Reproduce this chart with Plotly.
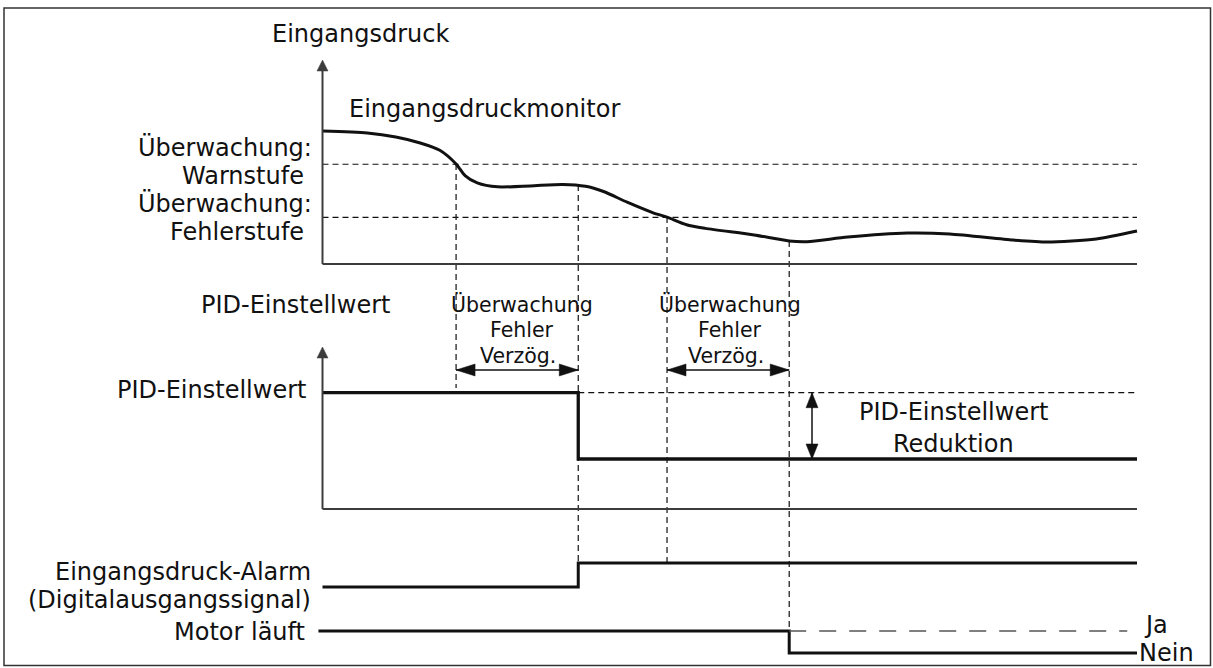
import plotly.graph_objects as go

W, H = 1213, 668

# ---------------- data (schematic time units 0..100) ----------------
pressure_time = [0, 5.5, 9, 12, 14.4, 16.4, 17.5, 19, 21.5, 25.5, 29.5, 32.3, 34.5, 37.4,
                 40.6, 42.3, 44.7, 47, 53, 57.3, 59.5, 64.5, 71.8, 77, 84.8, 89, 95, 100]
pressure_value = [100, 98.5, 95.5, 91, 85.5, 75.2, 66.5, 61, 58, 58.7, 59.8, 58.4, 54.5, 46.5,
                  38.5, 35.2, 29.5, 26.8, 21.8, 17.3, 16.8, 20.3, 23.3, 22.6, 18, 16.5, 18.8, 24.8]
warning_level = 75
fault_level = 35

event_times = {"warn_cross": 16.4, "delay1_end": 31.4, "fault_cross": 42.3, "delay2_end": 57.3}
reduction_arrow_time = 60.1

pid_time = [0, 31.4, 31.4, 100]
pid_value = [100, 100, 43, 43]
pid_setpoint = 100
pid_reduced = 43

alarm_time = [0, 31.4, 31.4, 100]
alarm_state = [0, 0, 1, 1]

motor_time = [-0.5, 57.3, 57.3, 100]
motor_state = [1, 1, 0, 0]
motor_ja_end = 98.8

# ---------------- layout helpers ----------------
def lin_range(p0, v0, p1, v1, lo_px, hi_px):
    s = (v1 - v0) / (p1 - p0)
    return [v0 + (lo_px - p0) * s, v0 + (hi_px - p0) * s]

x_range = lin_range(322.5, 0, 1137, 100, 0, W)
y_press = lin_range(264, 0, 131, 100, H, 0)
y_pid = lin_range(509, 0, 392.7, 100, H, 0)
y_alarm = lin_range(587, 0, 563, 1, H, 0)
y_motor = lin_range(653, 0, 631, 1, H, 0)

def py(px):
    return 1 - px / H

def px_x(px):
    return px / W

BLACK = "#111111"
AXIS = "#3c3c3c"
FONT = "DejaVu Sans"

fig = go.Figure()

fig.add_trace(go.Scatter(x=pressure_time, y=pressure_value, mode="lines",
                         line=dict(color=BLACK, width=3, shape="spline", smoothing=0.7),
                         yaxis="y", hoverinfo="skip", showlegend=False))
fig.add_trace(go.Scatter(x=pid_time, y=pid_value, mode="lines",
                         line=dict(color=BLACK, width=3.3),
                         yaxis="y2", hoverinfo="skip", showlegend=False))
fig.add_trace(go.Scatter(x=alarm_time, y=alarm_state, mode="lines",
                         line=dict(color=BLACK, width=3),
                         yaxis="y3", hoverinfo="skip", showlegend=False))
fig.add_trace(go.Scatter(x=motor_time, y=motor_state, mode="lines",
                         line=dict(color=BLACK, width=3),
                         yaxis="y4", hoverinfo="skip", showlegend=False))

shapes = []
# border
shapes.append(dict(type="rect", xref="paper", yref="paper", x0=px_x(4), x1=px_x(1210.5),
                   y0=py(665.5), y1=py(8), line=dict(color="#333", width=1.5), layer="below"))

DASH = "6px,4px"
# horizontal dashed thresholds
for lvl in (warning_level, fault_level):
    shapes.append(dict(type="line", xref="x", yref="y", x0=0, x1=100, y0=lvl, y1=lvl,
                       line=dict(color=BLACK, width=1.2, dash=DASH)))
# PID setpoint dashed continuation
shapes.append(dict(type="line", xref="x", yref="y2", x0=event_times["delay1_end"], x1=100,
                   y0=pid_setpoint, y1=pid_setpoint, line=dict(color=BLACK, width=1.2, dash=DASH)))
# motor "Ja" dashed continuation
shapes.append(dict(type="line", xref="x", yref="y4", x0=event_times["delay2_end"], x1=motor_ja_end,
                   y0=1, y1=1, line=dict(color="#555", width=1.5, dash="17px,13px")))

# vertical guide lines (pixel spans)
guides = [("warn_cross", 164, 388), ("delay1_end", 185, 563),
          ("fault_cross", 217, 563), ("delay2_end", 241, 631)]
for key, top, bot in guides:
    t = event_times[key]
    shapes.append(dict(type="line", xref="x", yref="paper", x0=t, x1=t, y0=py(top), y1=py(bot),
                       line=dict(color=BLACK, width=1.2, dash=DASH), layer="below"))

# axes
shapes.append(dict(type="line", xref="x", yref="y", x0=0, x1=100, y0=0, y1=0,
                   line=dict(color=AXIS, width=2)))
shapes.append(dict(type="line", xref="x", yref="paper", x0=0, x1=0, y0=py(264), y1=py(66),
                   line=dict(color=AXIS, width=2)))
shapes.append(dict(type="line", xref="x", yref="y2", x0=0, x1=100, y0=0, y1=0,
                   line=dict(color=AXIS, width=2)))
shapes.append(dict(type="line", xref="x", yref="paper", x0=0, x1=0, y0=py(509), y1=py(352),
                   line=dict(color=AXIS, width=2)))

def head(xref, yref, xa, ya, direction, length, half, color=BLACK):
    if direction == "right":
        path = f"M 0,0 L {-length},{half} L {-length},{-half} Z"
    elif direction == "left":
        path = f"M 0,0 L {length},{half} L {length},{-half} Z"
    elif direction == "up":
        path = f"M 0,0 L {-half},{-length} L {half},{-length} Z"
    else:
        path = f"M 0,0 L {-half},{length} L {half},{length} Z"
    return dict(type="path", xref=xref, yref=yref, xsizemode="pixel", ysizemode="pixel",
                xanchor=xa, yanchor=ya, path=path, fillcolor=color, line=dict(color=color, width=0.5))

# axis arrow heads
shapes.append(head("x", "paper", 0, py(60), "up", 11, 5.5, AXIS))
shapes.append(head("x", "paper", 0, py(347), "up", 11, 5.5, AXIS))

# delay double arrows (at pixel row 370)
arrow_row = py(370)
for a, b in (("warn_cross", "delay1_end"), ("fault_cross", "delay2_end")):
    ta, tb = event_times[a], event_times[b]
    shapes.append(dict(type="line", xref="x", yref="paper", x0=ta, x1=tb, y0=arrow_row, y1=arrow_row,
                       line=dict(color=BLACK, width=1.5)))
    shapes.append(head("x", "paper", ta, arrow_row, "left", 19, 6))
    shapes.append(head("x", "paper", tb, arrow_row, "right", 19, 6))

# reduction vertical double arrow
shapes.append(dict(type="line", xref="x", yref="y2", x0=reduction_arrow_time, x1=reduction_arrow_time,
                   y0=pid_reduced, y1=pid_setpoint, line=dict(color=BLACK, width=1.5)))
shapes.append(head("x", "y2", reduction_arrow_time, pid_setpoint, "up", 15, 6))
shapes.append(head("x", "y2", reduction_arrow_time, pid_reduced, "down", 15, 6))

# ---------------- text ----------------
BIG = 24
SMALL = 20.5
annotations = []

def txt(text, x_px, baseline_px, anchor, size=BIG):
    annotations.append(dict(text=text, x=px_x(x_px), y=py(baseline_px - 0.35 * size),
                            xref="paper", yref="paper", xanchor=anchor, yanchor="middle",
                            showarrow=False, font=dict(family=FONT, size=size, color=BLACK)))

txt("Eingangsdruck", 270, 42, "left")
txt("Eingangsdruckmonitor", 347, 117, "left")
txt("Überwachung:", 314, 156, "right")
txt("Warnstufe", 306, 184, "right")
txt("Überwachung:", 314, 212, "right")
txt("Fehlerstufe", 306, 240, "right")
txt("PID-Einstellwert", 199, 313, "left")
txt("PID-Einstellwert", 308, 398, "right")
for cx in (522, 730):
    txt("Überwachung", cx, 312, "center", SMALL)
    txt("Fehler", cx, 337.5, "center", SMALL)
    txt("Verzög.", cx - 4, 363, "center", SMALL)
txt("PID-Einstellwert", 953, 420, "center")
txt("Reduktion", 953, 452, "center")
txt("Eingangsdruck-Alarm", 313, 580, "right")
txt("(Digitalausgangssignal)", 313, 608, "right")
txt("Motor läuft", 307, 640, "right")
txt("Ja", 1142, 633, "left")
txt("Nein", 1137, 661, "left")

ax_common = dict(visible=False, fixedrange=True)
fig.update_layout(
    width=W, height=H, margin=dict(l=0, r=0, t=0, b=0),
    paper_bgcolor="white", plot_bgcolor="white",
    xaxis=dict(range=x_range, domain=[0, 1], **ax_common),
    yaxis=dict(range=y_press, domain=[0, 1], **ax_common),
    yaxis2=dict(range=y_pid, overlaying="y", **ax_common),
    yaxis3=dict(range=y_alarm, overlaying="y", **ax_common),
    yaxis4=dict(range=y_motor, overlaying="y", **ax_common),
    shapes=shapes, annotations=annotations, showlegend=False,
)

fig.write_html("out.html", config={"displayModeBar": False, "staticPlot": True},
               post_script="document.body.style.margin='0';document.body.style.overflow='hidden';")
